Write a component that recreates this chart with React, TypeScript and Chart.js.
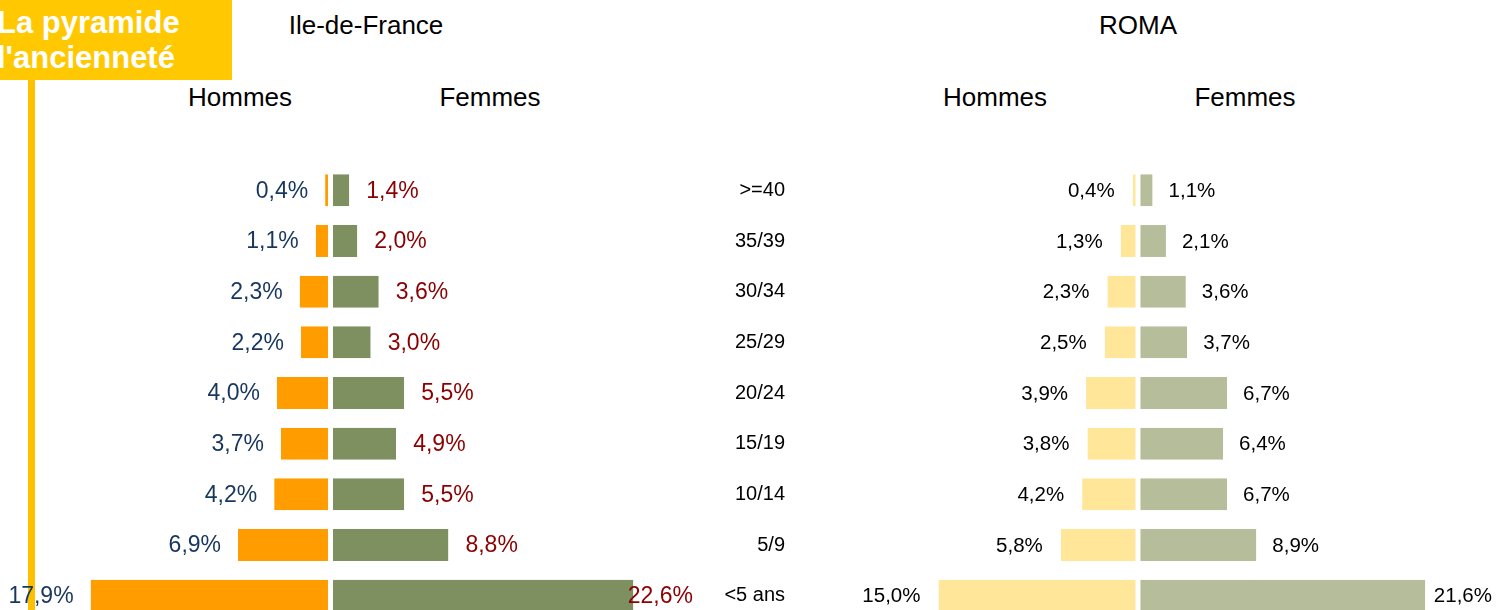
import React, { useEffect, useRef } from "react";
import { Chart, registerables } from "chart.js";

Chart.register(...registerables);

// ---- Data (youngest first; drawn bottom-up) ----
const AGE_GROUPS = ["<5 ans", "5/9", "10/14", "15/19", "20/24", "25/29", "30/34", "35/39", ">=40"];
const IDF_HOMMES = [17.9, 6.9, 4.2, 3.7, 4.0, 2.2, 2.3, 1.1, 0.4];
const IDF_FEMMES = [22.6, 8.8, 5.5, 4.9, 5.5, 3.0, 3.6, 2.0, 1.4];
const ROMA_HOMMES = [15.0, 5.8, 4.2, 3.8, 3.9, 2.5, 2.3, 1.3, 0.4];
const ROMA_FEMMES = [21.6, 8.9, 6.7, 6.4, 6.7, 3.7, 3.6, 2.1, 1.1];

const FONT = '"Liberation Sans", Arial, sans-serif';

type LabelOpts = {
  size: number;
  gapMen: number;
  gapWomen: number;
  colorMen: string;
  colorWomen: string;
};

function valueLabelsPlugin(opts: LabelOpts) {
  return {
    id: "valueLabels",
    afterDatasetsDraw(chart: any) {
      const ctx = chart.ctx;
      const area = chart.chartArea;
      ctx.save();
      ctx.font = `${opts.size}px ${FONT}`;
      ctx.textBaseline = "middle";
      ctx.textAlign = "left";
      chart.data.datasets.forEach((ds: any, di: number) => {
        const meta = chart.getDatasetMeta(di);
        meta.data.forEach((bar: any, i: number) => {
          const v = Math.abs(ds.data[i]);
          const txt = v.toFixed(1).replace(".", ",") + "%";
          const w = ctx.measureText(txt).width;
          let x: number;
          if (di === 0) {
            x = Math.max(bar.x - opts.gapMen - w, area.left);
            ctx.fillStyle = opts.colorMen;
          } else {
            x = Math.min(bar.x + opts.gapWomen, area.right - w);
            ctx.fillStyle = opts.colorWomen;
          }
          ctx.fillText(txt, x, bar.y + 1);
        });
      });
      ctx.restore();
    },
  };
}

type PyramidProps = {
  men: number[];
  women: number[];
  menColor: string;
  womenColor: string;
  xMin: number;
  xMax: number;
  showAxis: boolean;
  padRight: number;
  labels: LabelOpts;
  left: number;
  width: number;
};

function Pyramid(p: PyramidProps) {
  const ref = useRef<HTMLCanvasElement | null>(null);
  useEffect(() => {
    if (!ref.current) return;
    const chart = new Chart(ref.current, {
      type: "bar",
      data: {
        labels: AGE_GROUPS,
        datasets: [
          {
            label: "Hommes",
            data: p.men.map((v) => -v),
            backgroundColor: p.menColor,
            borderColor: "#ffffff",
            borderWidth: { top: 0, bottom: 0, left: 0, right: 2.5 } as any,
            borderSkipped: false as any,
            barPercentage: 0.63,
            categoryPercentage: 1,
          },
          {
            label: "Femmes",
            data: p.women,
            backgroundColor: p.womenColor,
            borderColor: "#ffffff",
            borderWidth: { top: 0, bottom: 0, left: 2.5, right: 0 } as any,
            borderSkipped: false as any,
            barPercentage: 0.63,
            categoryPercentage: 1,
          },
        ],
      },
      options: {
        indexAxis: "y",
        animation: false,
        responsive: false,
        events: [],
        layout: { padding: { left: 0, right: p.padRight, top: 0, bottom: 0 } },
        plugins: { legend: { display: false }, tooltip: { enabled: false } },
        scales: {
          x: {
            display: false,
            stacked: true,
            min: p.xMin,
            max: p.xMax,
          },
          y: {
            display: p.showAxis,
            stacked: true,
            reverse: true,
            position: "left",
            grid: { display: false, drawTicks: false },
            border: { display: false },
            ticks: {
              color: "#000000",
              font: { family: FONT, size: 20 },
              padding: 25,
            },
            afterFit: (axis: any) => {
              if (p.showAxis) axis.width = 110;
              axis.paddingTop = 0;
              axis.paddingBottom = 0;
            },
          },
        },
      },
      plugins: [valueLabelsPlugin(p.labels)],
    } as any);
    return () => chart.destroy();
  }, []);
  return (
    <canvas
      ref={ref}
      width={p.width}
      height={456}
      style={{ position: "absolute", left: p.left, top: 165, width: p.width, height: 456, display: "block" }}
    />
  );
}

function Txt(props: { text: string; cx: number; top: number; size: number }) {
  return (
    <div
      style={{
        position: "absolute",
        left: props.cx - 150,
        top: props.top,
        width: 300,
        textAlign: "center",
        fontFamily: FONT,
        fontSize: props.size,
        lineHeight: "30px",
        color: "#000",
        whiteSpace: "nowrap",
      }}
    >
      {props.text}
    </div>
  );
}

export default function App() {
  return (
    <div
      style={{
        position: "absolute",
        left: 0,
        top: 0,
        width: 1507,
        height: 610,
        overflow: "hidden",
        background: "#ffffff",
      }}
    >
      <div style={{ position: "absolute", left: 0, top: 0, width: 232, height: 80, background: "#FFC800" }} />
      <div
        style={{
          position: "absolute",
          left: -3,
          top: 5,
          fontFamily: FONT,
          fontWeight: "bold",
          fontSize: 31,
          lineHeight: "35px",
          color: "#ffffff",
          whiteSpace: "nowrap",
        }}
      >
        La pyramide
        <br />
        l'ancienneté
      </div>
      <div style={{ position: "absolute", left: 28, top: 80, width: 7, height: 530, background: "#FFC000" }} />

      <Txt text="Ile-de-France" cx={366} top={10} size={26} />
      <Txt text="ROMA" cx={1138} top={10} size={26} />
      <Txt text="Hommes" cx={240} top={82} size={26} />
      <Txt text="Femmes" cx={490} top={82} size={26} />
      <Txt text="Hommes" cx={995} top={82} size={26} />
      <Txt text="Femmes" cx={1245} top={82} size={26} />

      <Pyramid
        men={IDF_HOMMES}
        women={IDF_FEMMES}
        menColor="#FF9C00"
        womenColor="#7E8F60"
        xMin={-24.66}
        xMax={27.05}
        showAxis={false}
        padRight={0}
        left={0}
        width={693}
        labels={{ size: 23, gapMen: 17, gapWomen: 17, colorMen: "#17375E", colorWomen: "#8B0000" }}
      />
      <Pyramid
        men={ROMA_HOMMES}
        women={ROMA_FEMMES}
        menColor="#FFE699"
        womenColor="#B6BD9B"
        xMin={-24.66}
        xMax={26.62}
        showAxis={true}
        padRight={15}
        left={700}
        width={807}
        labels={{ size: 20.5, gapMen: 18, gapWomen: 16, colorMen: "#000000", colorWomen: "#000000" }}
      />
    </div>
  );
}
